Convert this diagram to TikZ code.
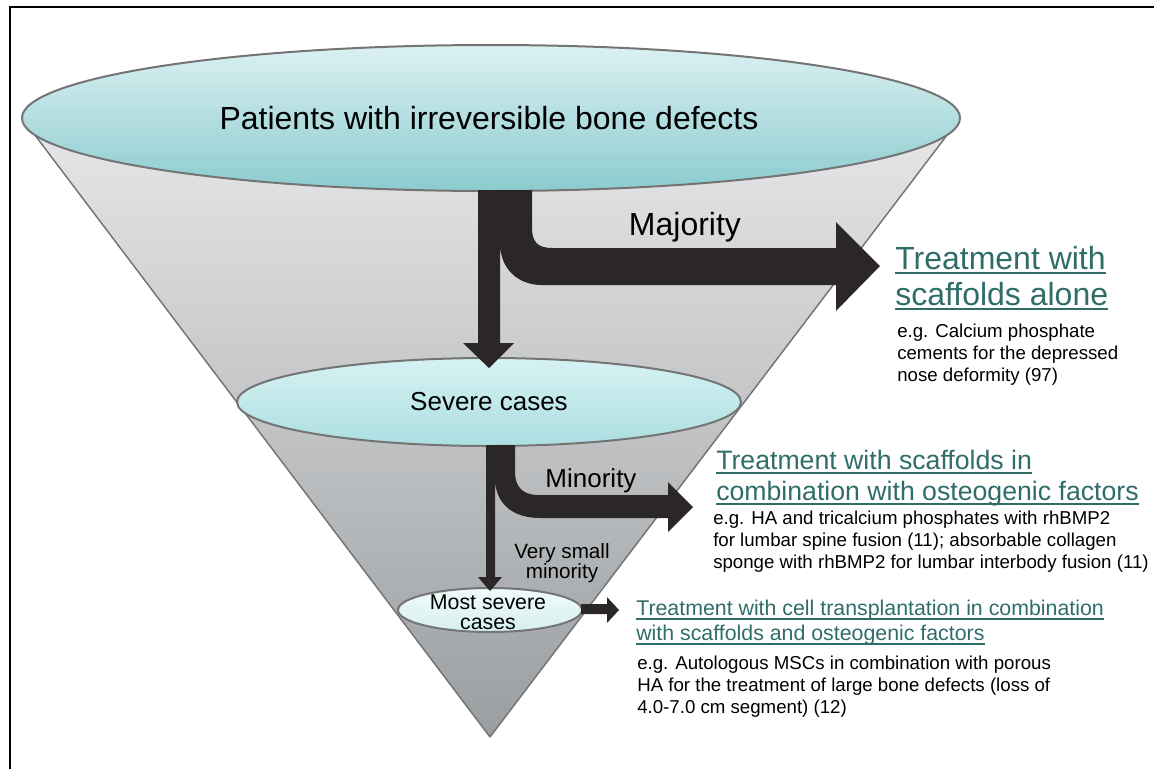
\documentclass[tikz,border=0pt]{standalone}
\usepackage{fontspec}
\setmainfont{Liberation Sans}

\definecolor{conetop}{HTML}{E7E7E9}
\definecolor{conebot}{HTML}{9A9EA0}
\definecolor{rim}{HTML}{747474}
\definecolor{flowdark}{HTML}{2C2727}
\definecolor{tealtext}{HTML}{2F6D69}
\definecolor{lenstop}{HTML}{DBF1F2}
\definecolor{lensbot}{HTML}{8CCBCF}
\definecolor{severetop}{HTML}{D6F2F3}
\definecolor{severebot}{HTML}{ACDEE1}
\definecolor{mosttop}{HTML}{F0FAFA}
\definecolor{mostbot}{HTML}{D6EFF0}

% underlined heading line: depth, thickness, text
\newsavebox{\hdbox}
\newcommand{\hdline}[3]{\sbox{\hdbox}{#3}\rlap{\rule[-#1]{\wd\hdbox}{#2}}\usebox{\hdbox}}

\begin{document}
\begin{tikzpicture}[x=0.75pt, y=-0.75pt,
  cone/.style={top color=conetop, bottom color=conebot, draw=rim, line width=1.1pt, line join=round},
  lens/.style={draw=rim, line width=1.5pt},
  flow/.style={fill=flowdark},
  heading/.style={text=tealtext, anchor=north west, align=left, inner sep=0pt},
  note/.style={font=\fontsize{14}{16.5}\selectfont, anchor=north west, align=left, inner sep=0pt},
  label/.style={inner sep=0pt, align=center}]

  \useasboundingbox (0,0) rectangle (1154,769);

  % frame
  \draw[line width=2.2pt] (10,769) -- (10,7) -- (1154,7);

  % funnel
  \path[cone] (22,118) -- (490,737) -- (960,118) -- cycle;

  % levels
  \path[lens, top color=lenstop, bottom color=lensbot] (491,118) ellipse [x radius=469, y radius=73];
  \path[lens, top color=severetop, bottom color=severebot] (489,402) ellipse [x radius=252, y radius=44];
  \path[lens, top color=mosttop, bottom color=mostbot] (490,610) ellipse [x radius=92, y radius=22];

  % majority branch and flow to severe cases
  \path[flow] (478,190) -- (532,190) -- (532,228) .. controls (532,242) and (538,248) .. (552,248)
    -- (836,248) -- (836,222) -- (880,266) -- (836,311) -- (836,285) -- (542,285)
    .. controls (517,285) and (500,268) .. (500,243) -- (500,343) -- (514,343) -- (489,368)
    -- (463,343) -- (478,343) -- cycle;

  % minority branch and flow to most severe cases
  \path[flow] (486,445) -- (515,445) -- (515,472) .. controls (515,487) and (523,495) .. (538,495)
    -- (668,495) -- (668,482) -- (693,507) -- (668,532) -- (668,518) -- (540,518)
    .. controls (512,518) and (495,503) .. (495,478) -- (495,577) -- (502,577) -- (490,591)
    -- (478,577) -- (486,577) -- cycle;

  % very small minority
  \path[flow] (581,604) -- (607,604) -- (607,597) -- (619,610) -- (607,623) -- (607,614)
    -- (581,614) -- cycle;

  % level labels
  \node[label, font=\fontsize{24}{27}\selectfont] (patients) at (489,118) {Patients with irreversible bone defects};
  \node[label, font=\fontsize{19.5}{22}\selectfont] (severe) at (489,402) {Severe cases};
  \node[label, font=\fontsize{16}{14.5}\selectfont, anchor=north] (mostsevere) at (488,595) {Most severe\\cases};

  % branch labels
  \node[label, font=\fontsize{24}{27}\selectfont, anchor=base] (majority) at (685,235) {Majority};
  \node[label, font=\fontsize{19.5}{22}\selectfont, anchor=base] (minority) at (591,487) {Minority};
  \node[label, font=\fontsize{15.5}{12.75}\selectfont, anchor=north] (vsmall) at (562,543) {Very small\\minority};

  % treatments
  \node[heading, font=\fontsize{24}{27}\selectfont] (scaff) at (895,246)
    {\hdline{3.6pt}{1.8pt}{Treatment with}\\\hdline{3.6pt}{1.8pt}{scaffolds alone}};
  \node[note] (scaffdesc) at (897,324)
    {e.g. Calcium phosphate\\cements for the depressed\\nose deformity (97)};

  \node[heading, font=\fontsize{20}{23.25}\selectfont] (combo) at (716,450)
    {\hdline{3.5pt}{1.4pt}{Treatment with scaffolds in}\\\hdline{3.5pt}{1.4pt}{combination with osteogenic factors}};
  \node[note] (combodesc) at (713,511)
    {e.g. HA and tricalcium phosphates with rhBMP2\\for lumbar spine fusion (11); absorbable collagen\\sponge with rhBMP2 for lumbar interbody fusion (11)};

  \node[heading, font=\fontsize{16}{18.75}\selectfont] (cells) at (636,600)
    {\hdline{3pt}{1.1pt}{Treatment with cell transplantation in combination}\\\hdline{3pt}{1.1pt}{with scaffolds and osteogenic factors}};
  \node[note] (cellsdesc) at (637,656)
    {e.g. Autologous MSCs in combination with porous\\HA for the treatment of large bone defects (loss of\\4.0-7.0 cm segment) (12)};

\end{tikzpicture}
\end{document}
